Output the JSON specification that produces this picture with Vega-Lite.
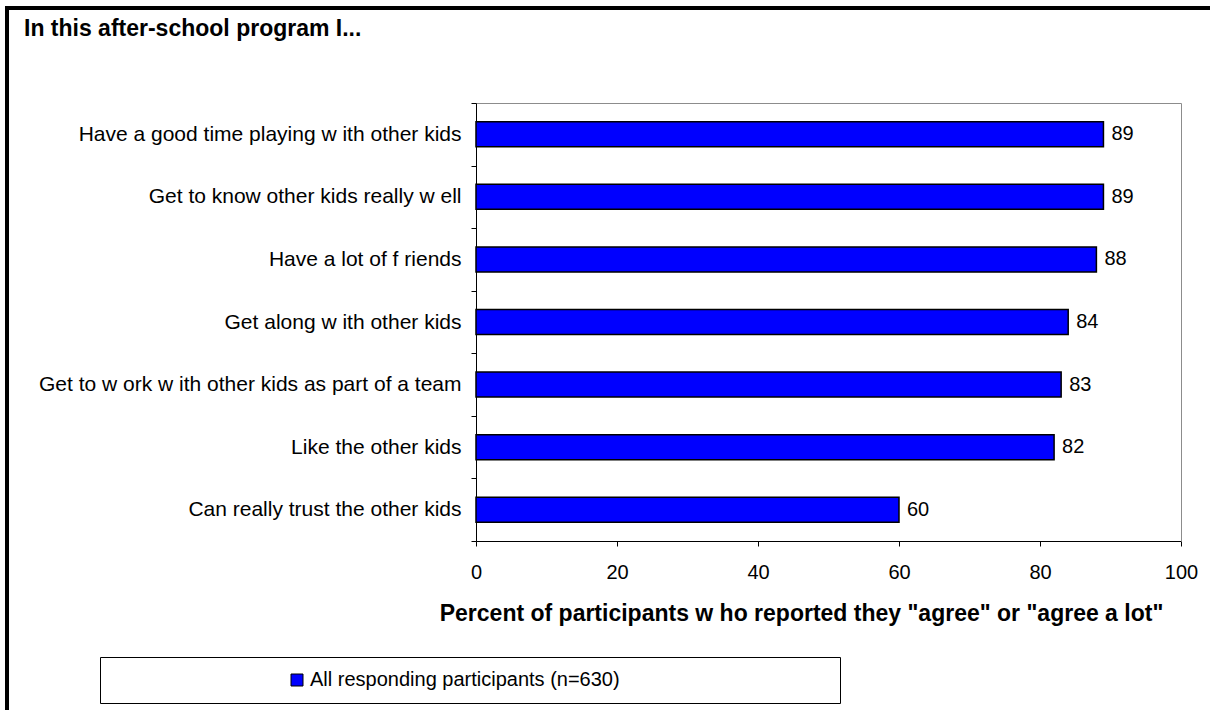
{
  "$schema": "https://vega.github.io/schema/vega-lite/v6.json",
  "width": 1207,
  "height": 706,
  "autosize": {"type": "none"},
  "padding": {"left": 7, "top": 8, "right": -4, "bottom": -4},
  "background": "white",
  "config": {
    "view": {"stroke": "black", "strokeWidth": 4},
    "font": "Liberation Sans",
    "axis": {"grid": false}
  },
  "title": {
    "text": "In this after-school program I...",
    "anchor": "start",
    "frame": "group",
    "orient": "top",
    "baseline": "alphabetic",
    "offset": -62,
    "dx": 17,
    "fontSize": 23,
    "fontWeight": "bold",
    "font": "Liberation Sans",
    "color": "black"
  },
  "data": {
    "values": [
      {"cat": "Have a good time playing w ith other kids", "value": 89, "series": "All responding participants (n=630)"},
      {"cat": "Get to know  other kids really w ell", "value": 89, "series": "All responding participants (n=630)"},
      {"cat": "Have a lot of f riends", "value": 88, "series": "All responding participants (n=630)"},
      {"cat": "Get along w ith other kids", "value": 84, "series": "All responding participants (n=630)"},
      {"cat": "Get to w ork w ith other kids as part of a team", "value": 83, "series": "All responding participants (n=630)"},
      {"cat": "Like the other kids", "value": 82, "series": "All responding participants (n=630)"},
      {"cat": "Can really trust the other kids", "value": 60, "series": "All responding participants (n=630)"}
    ]
  },
  "layer": [
    {
      "mark": {"type": "bar", "height": {"band": 0.4}, "stroke": "black", "strokeWidth": 1.5},
      "encoding": {
        "y": {
          "field": "cat", "type": "nominal", "sort": null,
          "scale": {"range": [95, 533], "paddingInner": 0, "paddingOuter": 0},
          "axis": {
            "orient": "left", "offset": -469, "title": null,
            "tickBand": "extent", "tickSize": 5, "tickColor": "black",
            "domainColor": "black", "labelFontSize": 21, "labelColor": "black",
            "labelFont": "Liberation Sans", "labelPadding": 10, "labelLimit": 600
          }
        },
        "x": {
          "field": "value", "type": "quantitative",
          "scale": {"domain": [0, 100], "range": [469, 1174], "nice": false},
          "axis": {
            "orient": "bottom", "offset": -173,
            "values": [0, 20, 40, 60, 80, 100],
            "labelFlush": false, "labelOverlap": false,
            "tickSize": 5, "tickColor": "black", "domainColor": "black",
            "labelFontSize": 20, "labelColor": "black", "labelFont": "Liberation Sans",
            "labelPadding": 16,
            "title": "Percent of participants w ho reported they \"agree\" or \"agree a lot\"",
            "titleFontSize": 23, "titleFontWeight": "bold", "titleColor": "black",
            "titleFont": "Liberation Sans",
            "titleX": 794, "titleY": 79, "titleAlign": "center", "titleBaseline": "alphabetic"
          }
        },
        "fill": {
          "field": "series", "type": "nominal",
          "scale": {"range": ["#0000FF"]},
          "legend": {
            "orient": "none", "legendX": 93, "legendY": 649,
            "title": null, "padding": 13,
            "strokeColor": "black", "fillColor": "white",
            "symbolType": "M-1,-1H1V1H-1Z M88,0", "symbolSize": 144,
            "symbolStrokeColor": "black", "symbolStrokeWidth": 1,
            "symbolOffset": 174, "labelOffset": 3,
            "labelFontSize": 20, "labelColor": "black", "labelFont": "Liberation Sans",
            "labelLimit": 600
          }
        }
      }
    },
    {
      "mark": {"type": "text", "align": "left", "baseline": "middle", "dx": 8, "fontSize": 20, "font": "Liberation Sans", "color": "black"},
      "encoding": {
        "y": {
          "field": "cat", "type": "nominal", "sort": null,
          "scale": {"range": [95, 533], "paddingInner": 0, "paddingOuter": 0},
          "axis": {"orient": "right", "offset": -33, "title": null, "labels": false, "ticks": false, "domainColor": "#8c8c8c"}
        },
        "x": {
          "field": "value", "type": "quantitative",
          "scale": {"domain": [0, 100], "range": [469, 1174], "nice": false},
          "axis": {"orient": "top", "offset": -95, "title": null, "labels": false, "ticks": false, "domainColor": "#8c8c8c"}
        },
        "text": {"field": "value", "type": "quantitative"}
      }
    }
  ],
  "resolve": {"axis": {"x": "independent", "y": "independent"}}
}
